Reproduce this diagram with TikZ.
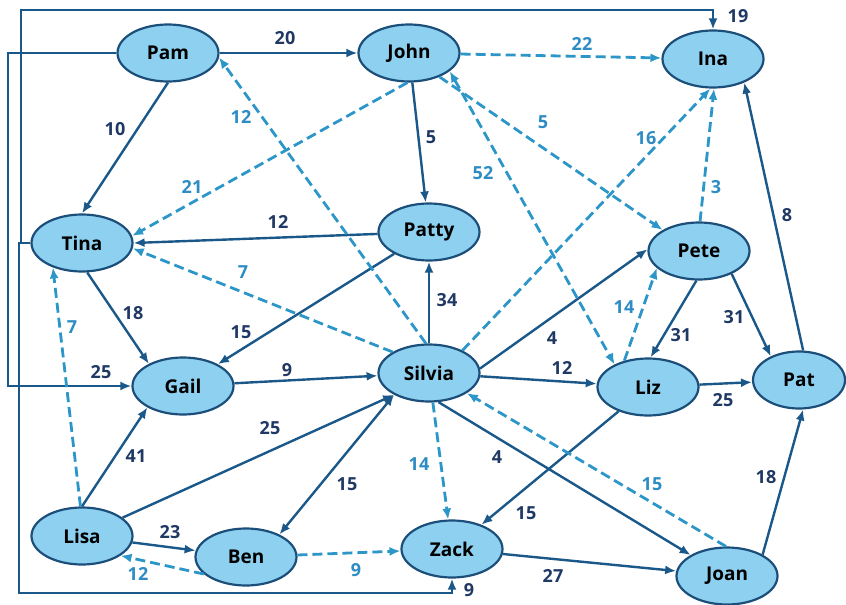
\documentclass[tikz,border=0pt]{standalone}
\usepackage{fontspec}
\setmainfont{Open Sans}
\usetikzlibrary{arrows.meta,shapes.geometric}

\definecolor{nodefill}{RGB}{142,208,240}
\definecolor{nodeedge}{RGB}{28,78,122}
\definecolor{solidblue}{RGB}{26,88,138}
\definecolor{dashblue}{RGB}{44,150,200}
\definecolor{labdark}{RGB}{31,56,100}
\definecolor{labdash}{RGB}{44,140,195}

\begin{document}
\begin{tikzpicture}[x=1pt,y=-1pt,
  person/.style={ellipse, draw=nodeedge, fill=nodefill, line width=2.2pt,
    minimum width=101pt, minimum height=57pt, inner sep=0pt,
    font=\fontsize{19}{22}\selectfont\bfseries, text=black},
  tipshape/.style={},
  link/.style={draw=solidblue, line width=2.4pt, -{Latex[length=11pt,width=9pt]}},
  twoway/.style={draw=solidblue, line width=2.4pt, {Latex[length=11pt,width=9pt]}-{Latex[length=11pt,width=9pt]}},
  hint/.style={draw=dashblue, line width=2.8pt, dash pattern=on 10pt off 5pt, -{Latex[length=11pt,width=9pt]}},
  hinttwo/.style={draw=dashblue, line width=2.8pt, dash pattern=on 10pt off 5pt, {Latex[length=11pt,width=9pt]}-{Latex[length=11pt,width=9pt]}},
  wlab/.style={font=\fontsize{18}{20}\selectfont\bfseries, text=labdark, inner sep=1pt},
  hlab/.style={wlab, text=labdash}]

\useasboundingbox (0,0) rectangle (846,605);

% people
\node[person] (pam)    at (168,53)  {Pam};
\node[person] (john)   at (409,53)  {John};
\node[person] (ina)    at (713,59)  {Ina};
\node[person] (tina)   at (82,243)  {Tina};
\node[person] (patty)  at (429,232) {Patty};
\node[person] (pete)   at (699,251) {Pete};
\node[person] (gail)   at (183,386) {Gail};
\node[person] (silvia) at (429,373) {Silvia};
\node[person] (liz)    at (648,387) {Liz};
\node[person, minimum width=92pt] (pat) at (799,380) {Pat};
\node[person] (lisa)   at (82,536)  {Lisa};
\node[person] (ben)    at (246,557) {Ben};
\node[person] (zack)   at (452,549) {Zack};
\node[person] (joan)   at (727,576) {Joan};

% rails for the routed links around the border
\coordinate (pamrail) at (8,0);
\coordinate (topleft) at (21,10);
\coordinate (botleft) at (19,593);

% solid links
\draw[link] (pam) -- (john);
\draw[link] (pam.south) -- (tina.north);
\draw[link] (john) -- (patty);
\draw[link] (patty) -- (tina.0);
\draw[link] (patty) -- (gail);
\draw[link] (tina.-80) -- (gail.147);
\draw[link] (gail) -- (silvia);
\draw[link] (silvia) -- (patty);
\draw[link] (silvia.5) -- (pete.178);
\draw[link] (silvia) -- (liz);
\draw[link] (silvia.-72) -- (joan.150);
\draw[twoway] (silvia.212) -- (ben.34);
\draw[link] (lisa.north) -- (gail.-149);
\draw[link] (lisa) -- (silvia.212);
\draw[link] (lisa) -- (ben);
\draw[link] (liz) -- (zack);
\draw[link] (zack) -- (joan);
\draw[link] (liz) -- (pat);
\draw[link] (pete.-95) -- (liz.85);
\draw[link] (pete.-35) -- (pat.140);
\draw[link] (pat.82) -- (ina.-37);
\draw[link] (joan.31) -- (pat.-82);
\draw[link] (pam.west) -- (pam.west -| pamrail) |- (gail.west);
\draw[link] (tina.west) -| (topleft) -| (ina.north);
\draw[link] (tina.west) -| (botleft) -| (zack.south);

% dashed links
\draw[hint] (john) -- (ina);
\draw[hint] (john.-93) -- (tina.8);
\draw[hint] (silvia.96) -- (pam.-5);
\draw[hint] (john.-38) -- (pete.150);
\draw[hinttwo] (john.-24) -- (liz.146);
\draw[hint] (silvia.34) -- (ina.-95);
\draw[hint] (pete.88) -- (ina.-88);
\draw[hint] (silvia.150) -- (tina.-6);
\draw[hint] (lisa.93) -- (tina.-140);
\draw[hint] (liz.132) -- (pete.-158);
\draw[hint] (silvia) -- (zack);
\draw[hint] (ben) -- (zack);
\draw[hint] (ben.-158) -- (lisa.-27);
\draw[hint] (joan.92) -- (silvia.-28);

% weights of the solid links
\node[wlab] (w20)  at (285,38)  {20};
\node[wlab] (w19)  at (738,16)  {19};
\node[wlab] (w10)  at (115,129) {10};
\node[wlab] (w5a)  at (431,137) {5};
\node[wlab] (w8)   at (787,215) {8};
\node[wlab] (w12a) at (278,222) {12};
\node[wlab] (w34)  at (447,300) {34};
\node[wlab] (w18a) at (133,313) {18};
\node[wlab] (w15a) at (241,332) {15};
\node[wlab] (w31a) at (681,335) {31};
\node[wlab] (w31b) at (734,317) {31};
\node[wlab] (w4a)  at (552,338) {4};
\node[wlab] (w25a) at (101,372) {25};
\node[wlab] (w9a)  at (287,370) {9};
\node[wlab] (w12b) at (562,368) {12};
\node[wlab] (w25b) at (723,400) {25};
\node[wlab] (w25c) at (270,428) {25};
\node[wlab] (w41)  at (136,456) {41};
\node[wlab] (w4b)  at (497,457) {4};
\node[wlab] (w15b) at (347,484) {15};
\node[wlab] (w18b) at (766,477) {18};
\node[wlab] (w15c) at (526,513) {15};
\node[wlab] (w23)  at (170,532) {23};
\node[wlab] (w27)  at (553,576) {27};
\node[wlab] (w9b)  at (469,590) {9};

% weights of the dashed links
\node[hlab] (h22)  at (582,44)  {22};
\node[hlab] (h12a) at (241,117) {12};
\node[hlab] (h5)   at (543,122) {5};
\node[hlab] (h16)  at (646,138) {16};
\node[hlab] (h21)  at (192,187) {21};
\node[hlab] (h52)  at (483,173) {52};
\node[hlab] (h3)   at (716,187) {3};
\node[hlab] (h7a)  at (243,272) {7};
\node[hlab] (h14a) at (624,307) {14};
\node[hlab] (h7b)  at (72,327)  {7};
\node[hlab] (h14b) at (419,464) {14};
\node[hlab] (h15)  at (652,484) {15};
\node[hlab] (h12b) at (138,574) {12};
\node[hlab] (h9)   at (356,570) {9};
\end{tikzpicture}
\end{document}
